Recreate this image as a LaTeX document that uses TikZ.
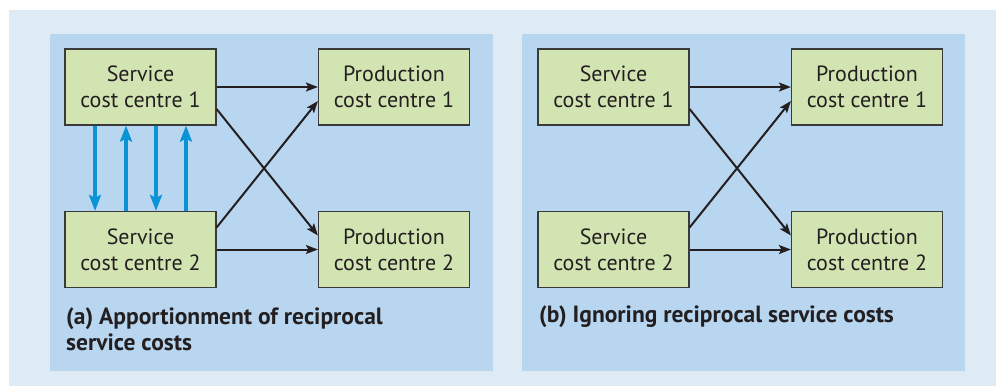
\documentclass[tikz,border=0pt]{standalone}
\usepackage{fontspec}
\setmainfont{PT Sans}
\usetikzlibrary{arrows.meta}
\definecolor{outerbg}{HTML}{DEEBF4}
\definecolor{panelbg}{HTML}{B8D6F0}
\definecolor{boxfill}{HTML}{D3E4B3}
\definecolor{boxline}{HTML}{3A3A3A}
\definecolor{flowblue}{HTML}{0A93D6}
\definecolor{arrowblack}{HTML}{231F20}
\tikzset{
  ccbox/.style={draw=boxline, line width=1.2pt, fill=boxfill, minimum width=151pt, minimum height=76pt,
    inner sep=0pt, align=center, font=\fontsize{22}{26}\selectfont, text=arrowblack},
  flow/.style={draw=arrowblack, line width=2pt, -{Stealth[length=12pt,width=9pt,inset=2.5pt]}},
  recip/.style={draw=flowblue, line width=4.5pt, -{Stealth[length=16pt,width=12pt,inset=3pt]}},
  captxt/.style={inner sep=0pt, align=left, font=\fontsize{23.5}{25.5}\selectfont\bfseries, text=arrowblack}
}
\begin{document}
\begin{tikzpicture}[x=1pt,y=-1pt]
\useasboundingbox (0,0) rectangle (996,386);
\fill[outerbg] (9,10) rectangle (996,386);
\fill[panelbg] (50,34) rectangle (493,371);
\fill[panelbg] (522,34) rectangle (965,371);
% panel (a)
\node[ccbox] (sa1) at (140.5,87) {Service\\cost centre 1};
\node[ccbox] (pa1) at (394,87) {Production\\cost centre 1};
\node[ccbox] (sa2) at (140.5,249.5) {Service\\cost centre 2};
\node[ccbox] (pa2) at (394,249.5) {Production\\cost centre 2};
\draw[flow] (sa1.east) -- (pa1.west);
\draw[flow] (sa2.east) -- (pa2.west);
\draw[flow] ([yshift=-22pt]sa1.east) -- ([yshift=14pt]pa2.west);
\draw[flow] ([yshift=22pt]sa2.east) -- ([yshift=-14pt]pa1.west);
\draw[recip] ([xshift=-45.5pt]sa1.south) -- ([xshift=-45.5pt]sa2.north);
\draw[recip] ([xshift=-14.5pt]sa2.north) -- ([xshift=-14.5pt]sa1.south);
\draw[recip] ([xshift=15.5pt]sa1.south) -- ([xshift=15.5pt]sa2.north);
\draw[recip] ([xshift=45.5pt]sa2.north) -- ([xshift=45.5pt]sa1.south);
\node[captxt, anchor=west] (capa) at (66,329.5) {(a) Apportionment of reciprocal\\service costs};
% panel (b)
\node[ccbox] (sb1) at (613.5,87) {Service\\cost centre 1};
\node[ccbox] (pb1) at (867,87) {Production\\cost centre 1};
\node[ccbox] (sb2) at (613.5,249.5) {Service\\cost centre 2};
\node[ccbox] (pb2) at (867,249.5) {Production\\cost centre 2};
\draw[flow] (sb1.east) -- (pb1.west);
\draw[flow] (sb2.east) -- (pb2.west);
\draw[flow] ([yshift=-22pt]sb1.east) -- ([yshift=14pt]pb2.west);
\draw[flow] ([yshift=22pt]sb2.east) -- ([yshift=-14pt]pb1.west);
\node[captxt, anchor=west] (capb) at (539,317) {(b) Ignoring reciprocal service costs};
\end{tikzpicture}
\end{document}
